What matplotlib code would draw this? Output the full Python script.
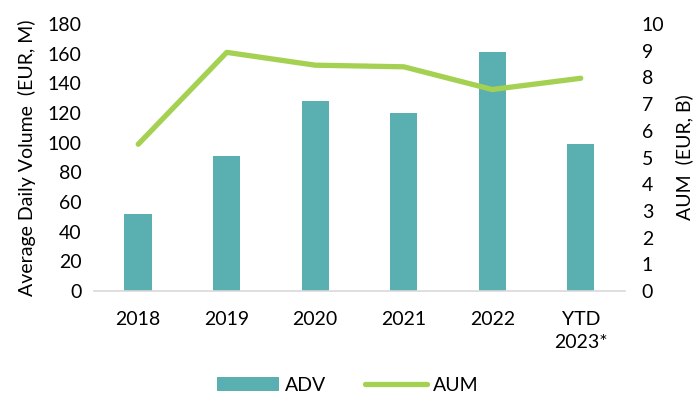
import matplotlib.pyplot as plt
import numpy as np

plt.rcParams['font.family'] = ['Lato', 'DejaVu Sans']

years = ["2018", "2019", "2020", "2021", "2022", "YTD\n2023*"]
adv = [52, 91, 128, 120, 161, 99]
aum = [5.5, 8.94, 8.46, 8.40, 7.55, 7.97]

fig = plt.figure(figsize=(6.96, 4.01), dpi=100)
ax = fig.add_axes([0.135, 0.274, 0.763, 0.666])
ax2 = ax.twinx()

x = np.arange(len(years))
bars = ax.bar(x, adv, width=0.31, color="#5AAFB0", label="ADV", zorder=2)
line, = ax2.plot(x, aum, color="#A5D152", linewidth=3.8, solid_capstyle="round", label="AUM", zorder=3)

ax.set_xlim(-0.5, len(years) - 0.5)
ax.set_ylim(0, 180)
ax.set_yticks(range(0, 181, 20))
ax2.set_ylim(0, 10)
ax2.set_yticks(range(0, 11))

ax.set_xticks(x)
ax.set_xticklabels(years, fontsize=14, linespacing=1.45)
ax.tick_params(axis="x", length=0, pad=14)
ax.tick_params(axis="y", length=0, labelsize=14, pad=9)
ax2.tick_params(axis="y", length=0, labelsize=14, pad=12)

for a in (ax, ax2):
    for s in ("top", "left", "right"):
        a.spines[s].set_visible(False)
ax2.spines["bottom"].set_visible(False)
ax.spines["bottom"].set_color("#D9D9D9")
ax.spines["bottom"].set_linewidth(1.2)

ax.set_ylabel("Average Daily Volume  (EUR, M)", fontsize=14, labelpad=8)
ax2.set_ylabel("AUM  (EUR, B)", fontsize=14, labelpad=8)

fig.legend([bars, line], ["ADV", "AUM"], loc="lower center", bbox_to_anchor=(0.5, -0.025),
           ncol=2, frameon=False, fontsize=14, handlelength=3.2, handletextpad=0.3,
           columnspacing=2.0)

fig.savefig("out.png", dpi=100)
